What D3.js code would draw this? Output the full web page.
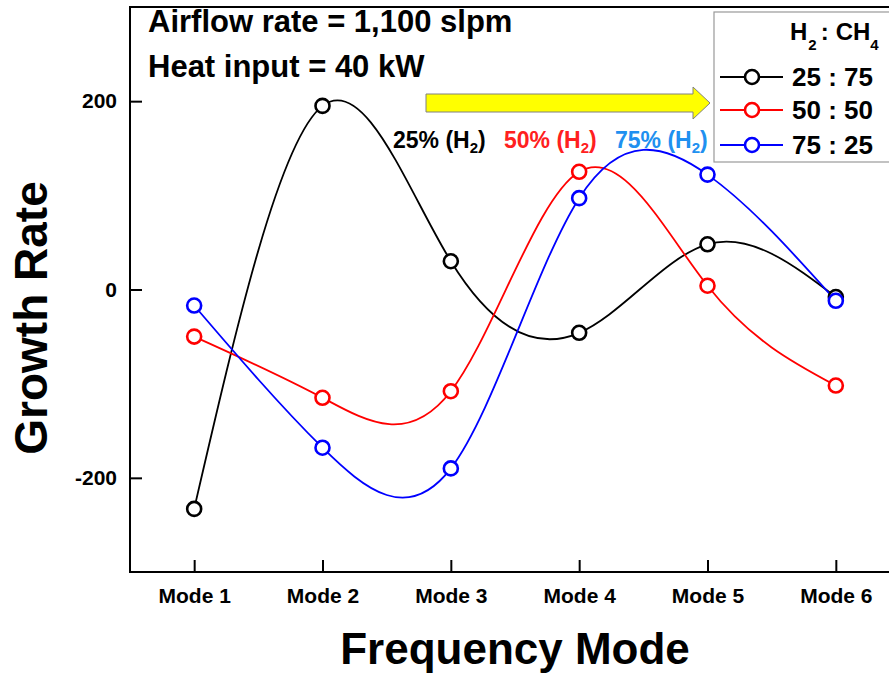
<!DOCTYPE html>
<html><head><meta charset="utf-8">
<script src="https://cdn.jsdelivr.net/npm/d3@7"></script>
<style>
html,body{margin:0;padding:0;background:#fff;}
svg{display:block;font-family:"Liberation Sans",Arial,sans-serif;}
</style></head>
<body>
<svg id="chart" width="889" height="676"></svg>
<script>
const modes = ["Mode 1","Mode 2","Mode 3","Mode 4","Mode 5","Mode 6"];
const yTicks = [-200, 0, 200];
const seriesNames = ["25 : 75", "50 : 50", "75 : 25"];
const seriesColors = ["#000000", "#ff0000", "#0000ff"];
const h2_25 = [-233, 195, 30, -46, 48, -8];
const h2_50 = [-50, -115, -108, 125, 4, -102];
const h2_75 = [-17, -168, -190, 97, 122, -12];
const annotations = [
  {label:"25%", color:"#000000"},
  {label:"50%", color:"#ff2020"},
  {label:"75%", color:"#2090f0"}
];
const series = [h2_25, h2_50, h2_75];

const svg = d3.select("#chart");
const L = 130, R = 900, T = 7, B = 572;
const x = d3.scalePoint().domain(modes).range([L, R]).padding(0.5);
const y = d3.scaleLinear().domain([-300, 300]).range([B, T]);

// curves
const line = d3.line().x((d,i)=>x(modes[i])).y(d=>y(d)).curve(d3.curveNatural);
const gPlot = svg.append("g");
series.forEach((s,k)=>{
  gPlot.append("path").attr("d", line(s)).attr("fill","none")
    .attr("stroke", seriesColors[k]).attr("stroke-width",1.8);
});
series.forEach((s,k)=>{
  gPlot.selectAll(null).data(s).enter().append("circle")
    .attr("cx",(d,i)=>x(modes[i])).attr("cy",d=>y(d)).attr("r",7)
    .attr("fill","#fff").attr("stroke",seriesColors[k]).attr("stroke-width",2.6);
});

// axes
const yAxis = d3.axisLeft(y).tickValues(yTicks).tickSize(-12).tickPadding(13)
  .tickFormat(d => String(d));
const gy = svg.append("g").attr("transform",`translate(${L},0)`).call(yAxis);
gy.select(".domain").remove();
gy.selectAll("line").attr("stroke","#000").attr("stroke-width",2);
gy.selectAll("text").attr("font-size",21).attr("font-weight","bold").attr("fill","#000")
  .attr("font-family","'Liberation Sans',Arial,sans-serif");

const xAxis = d3.axisBottom(x).tickSize(-12).tickPadding(16);
const gx = svg.append("g").attr("transform",`translate(0,${B})`).call(xAxis);
gx.select(".domain").remove();
gx.selectAll("line").attr("stroke","#000").attr("stroke-width",2);
gx.selectAll("text").attr("font-size",21).attr("font-weight","bold").attr("fill","#000")
  .attr("font-family","'Liberation Sans',Arial,sans-serif");

// frame
svg.append("rect").attr("x",L).attr("y",T).attr("width",R-L).attr("height",B-T)
  .attr("fill","none").attr("stroke","#000").attr("stroke-width",2);

// axis titles
svg.append("text").attr("x",515).attr("y",664).attr("text-anchor","middle")
  .attr("font-size",44).attr("font-weight","bold").text("Frequency Mode");
svg.append("text").attr("transform","translate(47,318) rotate(-90)").attr("text-anchor","middle")
  .attr("font-size",46).attr("font-weight","bold").text("Growth Rate");

// condition texts
svg.append("text").attr("x",148).attr("y",32).attr("font-size",31).attr("font-weight","bold")
  .text("Airflow rate = 1,100 slpm");
svg.append("text").attr("x",148).attr("y",77).attr("font-size",31).attr("font-weight","bold")
  .text("Heat input = 40 kW");

// arrow
const ay = 103;
svg.append("path")
  .attr("d", `M426,${ay-9} L693,${ay-9} L693,${ay-16} L710,${ay} L693,${ay+16} L693,${ay+9} L426,${ay+9} Z`)
  .attr("fill","#ffff00").attr("stroke","#808080").attr("stroke-width",1);

// annotations
const annX = [393, 504, 615];
annotations.forEach((a,i)=>{
  const t = svg.append("text").attr("x",annX[i]).attr("y",148).attr("font-size",23)
    .attr("font-weight","bold").attr("fill",a.color);
  t.append("tspan").text(a.label + " (H");
  t.append("tspan").attr("font-size",15).attr("dy",5).text("2");
  t.append("tspan").attr("dy",-5).text(")");
});

// legend
const lg = svg.append("g");
lg.append("rect").attr("x",714).attr("y",12).attr("width",200).attr("height",150)
  .attr("fill","#fff").attr("stroke","#999").attr("stroke-width",1.2);
const hdr = lg.append("text").attr("x",790).attr("y",40).attr("font-size",24).attr("font-weight","bold");
hdr.append("tspan").text("H");
hdr.append("tspan").attr("font-size",15).attr("dy",10).attr("dx",1).text("2");
hdr.append("tspan").attr("dy",-10).attr("dx",4).text(":");
hdr.append("tspan").attr("dx",7).text("CH");
hdr.append("tspan").attr("font-size",15).attr("dy",10).text("4");
const rowY = [77, 110, 145];
seriesNames.forEach((n,k)=>{
  lg.append("line").attr("x1",720).attr("x2",783).attr("y1",rowY[k]).attr("y2",rowY[k])
    .attr("stroke",seriesColors[k]).attr("stroke-width",1.8);
  lg.append("circle").attr("cx",752).attr("cy",rowY[k]).attr("r",7)
    .attr("fill","#fff").attr("stroke",seriesColors[k]).attr("stroke-width",2.6);
  lg.append("text").attr("x",792).attr("y",rowY[k]+9).attr("font-size",26).attr("font-weight","bold")
    .text(n);
});
</script>
</body></html>
